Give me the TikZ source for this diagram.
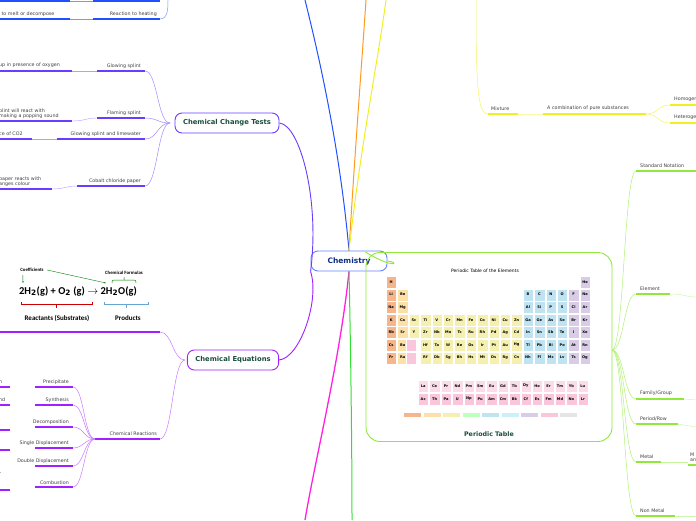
\documentclass[tikz,border=0pt]{standalone}
\usepackage{fontspec}
\setmainfont{DejaVu Sans}
\newfontfamily\carl{Carlito}
\usetikzlibrary{arrows.meta}
\definecolor{cblue}{HTML}{2050FF}
\definecolor{cpurp}{HTML}{6A3CFF}
\definecolor{cviol}{HTML}{A020FF}
\definecolor{cmag}{HTML}{FF20E0}
\definecolor{cgreen}{HTML}{30E030}
\definecolor{cyel}{HTML}{F0F020}
\definecolor{corg}{HTML}{FF9A20}
\definecolor{clime}{HTML}{8FE83A}
\definecolor{ctitle}{HTML}{1A4D3A}
\definecolor{alk}{HTML}{F7B58C}
\definecolor{ae}{HTML}{FCE0A8}
\definecolor{tr}{HTML}{F6F0B0}
\definecolor{pb}{HTML}{BFE3F0}
\definecolor{ng}{HTML}{D8CCE6}
\definecolor{lan}{HTML}{F9C6DC}
\tikzset{
 lab/.style={font=\fontsize{4.8}{5.6}\selectfont, text=black!75, inner sep=1pt, align=left},
 main/.style={draw, rounded corners=7pt, line width=0.9pt, minimum height=20pt, font=\fontsize{6.8}{7.5}\selectfont\bfseries, text=ctitle, inner xsep=8pt},
 pt/.style={draw=white, line width=0.2pt, minimum width=10.4pt, minimum height=12pt, inner sep=0pt, font=\fontsize{3.6}{4}\selectfont\bfseries},
}
\newcommand\br[5]{\draw[#1,line width=0.5pt] (#2,#3) .. controls ({0.5*(#2+#4)},#3) and ({0.5*(#2+#4)},#5) .. (#4,#5);}
\newcommand\ul[4]{\draw[#1,line width=1.2pt] (#2,#4)--(#3,#4);}
\newcommand\pc[3]{%
 \ifnum#1=1 \def\cc{alk}\else\ifnum#1=2 \def\cc{ae}\else\ifnum#1<13 \def\cc{tr}\else\ifnum#1<17 \def\cc{pb}\else\def\cc{ng}\fi\fi\fi\fi
 \node[pt,fill=\cc] at ({386+(#1-1)*11.4+5.2},{276+(#2-1)*12.6+6}) {#3};}
\begin{document}
\begin{tikzpicture}[x=1pt,y=-1pt]
\useasboundingbox (0,0) rectangle (696,520);
\node[main, draw=cblue!70, text=ctitle!60!blue, minimum width=76pt, font=\fontsize{7.5}{8}\selectfont\bfseries] (c) at (349,261) {Chemistry};
\draw[cblue,line width=1pt] (c.north) .. controls (340,150) and (320,60) .. (305,0);
\draw[corg,line width=1pt] (c.north) .. controls (355,150) and (362,60) .. (366,0);
\draw[cyel,line width=1pt] (c.north) .. controls (360,150) and (378,60) .. (386,0);
\draw[cmag,line width=1.3pt] (c.south) .. controls (340,360) and (315,460) .. (305,520);
\draw[cgreen,line width=1pt] (c.south) .. controls (351,360) and (352,460) .. (352,520);

\ul{cblue}{93}{160}{19}\node[lab,anchor=south east] at (158,18) {Reaction to heating};
\ul{cblue}{0}{70}{19}\node[lab,anchor=south west] at (-4,18) {y to melt or decompose};
\ul{cblue}{0}{70}{1}\ul{cblue}{93}{160}{1}
\draw[cblue!60,line width=0.5pt] (70,1)--(93,1) (70,19)--(93,19);
\draw[cblue!60,line width=0.5pt] (160,19) .. controls (168,19) and (168,8) .. (168,0);

\node[main, draw=cpurp] (t) at (227,123) {Chemical Change Tests};
\draw[cpurp,line width=0.9pt] (t.east) .. controls (300,125) and (320,200) .. (c.south west);
\foreach \y/\a/\tx in {71/97/{Glowing splint},
  118/97/{Flaming splint},
  139/57/{Glowing splint and limewater},
  186/77/{Cobalt chloride paper}}{
  \br{cpurp!60}{170}{123}{145}{\y}
  \ul{cpurp}{\a}{145}{\y}
  \node[lab,anchor=south east] at (142,\y-1) {\tx};
}
\ul{cpurp}{0}{72}{71}\node[lab,anchor=south west] at (-2,69) {up in presence of oxygen};
\draw[cpurp!50] (72,71)--(97,71);
\ul{cpurp}{0}{72}{121}\node[lab,anchor=south west] at (-2,120) {plint will react with\\making a popping sound};
\draw[cpurp!50] (72,121) .. controls (85,121) and (85,118) .. (97,118);
\ul{cpurp}{0}{32}{139}\node[lab,anchor=south west] at (-2,137) {ce of CO2};
\draw[cpurp!50] (32,139)--(57,139);
\ul{cpurp}{0}{52}{189}\node[lab,anchor=south west] at (-2,188) {paper reacts with\\anges colour};
\draw[cpurp!50] (52,189) .. controls (65,189) and (65,186) .. (77,186);

\node[main, draw=cviol] (e) at (233,360) {Chemical Equations};
\draw[cviol,line width=0.9pt] (e.east) .. controls (300,358) and (320,300) .. (c.south west);
\br{cviol!60}{185}{360}{160}{332}
\ul{cviol}{0}{160}{332}
\br{cviol!60}{185}{360}{160}{439}
\ul{cviol}{95}{160}{439}
\node[lab,anchor=south east] at (158,437) {Chemical Reactions};
\foreach \y/\tx in {387/Precipitate,405/Synthesis,427/Decomposition,448/{Single Displacement},466/{Double Displacement},487/Combustion}{
  \br{cviol!60}{95}{439}{73}{\y}
  \ul{cviol}{35}{73}{\y}
  \node[lab,anchor=south east] at (70,\y-1) {\tx};
}
\ul{cviol}{0}{10}{387}\node[lab,anchor=south west] at (-2,385) {n};
\ul{cviol}{0}{10}{405}\node[lab,anchor=south west] at (-2,403) {nd};
\ul{cviol}{0}{10}{430}\ul{cviol}{0}{10}{450}\ul{cviol}{0}{10}{490}
\node[lab,anchor=south west] at (-2,477) {r};
\node[font=\carl\bfseries\fontsize{10.5}{12}\selectfont] (eq) at (78,291) {2H$_\mathbf{2}$(g) + O$_\mathbf{2}$ (g) $\rightarrow$ 2H$_\mathbf{2}$O(g)};
\node[font=\carl\bfseries\fontsize{4.8}{5}\selectfont] (co) at (32,270) {Coefficients};
\node[font=\carl\bfseries\fontsize{4.8}{5}\selectfont] (cf) at (124,273) {Chemical Formulas};
\draw[green!50!black,-{Stealth[length=2pt]},line width=0.4pt] (co.south west) ++(6,0) -- (23,283);
\draw[green!50!black,-{Stealth[length=2pt]},line width=0.4pt] (co.east) -- (106,283);
\draw[green!50!black,line width=0.5pt] (112,283) .. controls (112,280) .. (118,280) -- (124,280) -- (124,277) (124,280) -- (130,280) .. controls (136,280) .. (136,283);
\draw[red!80!black,line width=0.6pt] (21,302)--(21,304)--(92,304)--(92,302) (56,304)--(56,308);
\draw[blue!40!cyan!70!black!60,line width=0.6pt] (104,302)--(104,304)--(148,304)--(148,302) (126,304)--(126,308);
\node[font=\carl\bfseries\fontsize{7}{8}\selectfont] at (57,318) {Reactants (Substrates)};
\node[font=\carl\bfseries\fontsize{7}{8}\selectfont] at (128,318) {Products};

\draw[cyel!70,line width=0.5pt] (476,0) .. controls (476,90) and (478,114) .. (488,114);
\ul{cyel}{488}{518}{114}\node[lab,anchor=south west] at (490,112) {Mixture};
\draw[cyel!40,line width=1pt] (518,114)--(543,114);
\ul{cyel}{543}{646}{114}\node[lab,anchor=south west] at (546,112) {A combination of pure substances};
\br{cyel!70}{646}{114}{670}{105}\br{cyel!70}{646}{114}{670}{123}
\ul{cyel}{670}{696}{105}\node[lab,anchor=south west] at (673,103) {Homogeneous};
\ul{cyel}{670}{696}{123}\node[lab,anchor=south west] at (673,121) {Heterogeneous};

\node[draw=clime, line width=0.9pt, rounded corners=14pt, minimum width=246pt, minimum height=189pt] (p) at (489,347) {};
\draw[clime,line width=0.9pt] (c.east) .. controls (400,262) and (395,270) .. (p.north west);
\node[font=\fontsize{6.3}{7}\selectfont\bfseries, text=ctitle] at (489,434) {Periodic Table};
\node[font=\fontsize{4.5}{5}\selectfont] at (485,271) {Periodic Table of the Elements};
\pc{1}{1}{H}\pc{18}{1}{He}
\foreach \s [count=\c] in {Li,Be}{\pc{\c}{2}{\s}}
\foreach \s [count=\c from 13] in {B,C,N,O,F,Ne}{\pc{\c}{2}{\s}}
\foreach \s [count=\c] in {Na,Mg}{\pc{\c}{3}{\s}}
\foreach \s [count=\c from 13] in {Al,Si,P,S,Cl,Ar}{\pc{\c}{3}{\s}}
\foreach \s [count=\c] in {K,Ca,Sc,Ti,V,Cr,Mn,Fe,Co,Ni,Cu,Zn,Ga,Ge,As,Se,Br,Kr}{\pc{\c}{4}{\s}}
\foreach \s [count=\c] in {Rb,Sr,Y,Zr,Nb,Mo,Tc,Ru,Rh,Pd,Ag,Cd,In,Sn,Sb,Te,I,Xe}{\pc{\c}{5}{\s}}
\foreach \s [count=\c] in {Cs,Ba}{\pc{\c}{6}{\s}}
\foreach \s [count=\c from 4] in {Hf,Ta,W,Re,Os,Ir,Pt,Au,Hg,Tl,Pb,Bi,Po,At,Rn}{\pc{\c}{6}{\s}}
\foreach \s [count=\c] in {Fr,Ra}{\pc{\c}{7}{\s}}
\foreach \s [count=\c from 4] in {Rf,Db,Sg,Bh,Hs,Mt,Ds,Rg,Cn,Nh,Fl,Mc,Lv,Ts,Og}{\pc{\c}{7}{\s}}
\node[pt,fill=lan] at (411,345) {};\node[pt,fill=lan] at (411,358) {};
\foreach \s [count=\c] in {La,Ce,Pr,Nd,Pm,Sm,Eu,Gd,Tb,Dy,Ho,Er,Tm,Yb,Lu}{
  \node[pt,fill=lan!60] at ({418+(\c-1)*11.4+5.2},386) {\s};}
\foreach \s [count=\c] in {Ac,Th,Pa,U,Np,Pu,Am,Cm,Bk,Cf,Es,Fm,Md,No,Lr}{
  \node[pt,fill=lan] at ({418+(\c-1)*11.4+5.2},399) {\s};}
\foreach \col [count=\i] in {alk,ae,tr,green!25,pb,cyan!20,ng,lan,gray!20}{
  \fill[\col] ({404+(\i-1)*19.5},413) rectangle ++(17,4);}

\foreach \y/\tx in {171/{Standard Notation},294/{Element},399/{Family/Group},424/{Period/Row},462/{Metal},516/{Non Metal}}{
  \br{clime!70}{612}{350}{636}{\y}
  \node[lab,anchor=south west] at (639,\y-2) {\tx};
}
\ul{clime}{636}{696}{171}
\ul{clime}{636}{670}{294}\draw[clime!50] (670,294) .. controls (685,294) and (685,297) .. (696,297);
\ul{clime}{636}{684}{399}\draw[clime!50] (684,399)--(696,400);
\ul{clime}{636}{678}{424}\draw[clime!50] (678,424)--(696,427);
\ul{clime}{636}{661}{462}\draw[clime!50] (661,462)--(688,462);\ul{clime}{688}{696}{465}
\node[lab,anchor=south west] at (689,463) {M\\an};
\ul{clime}{636}{675}{516}\draw[clime!40] (675,516)--(696,516);
\end{tikzpicture}
\end{document}
